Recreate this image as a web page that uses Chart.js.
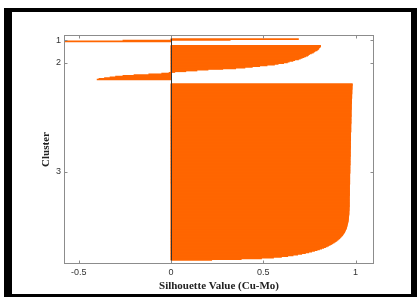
<!DOCTYPE html>
<html>
<head>
<meta charset="utf-8">
<script src="https://cdn.jsdelivr.net/npm/chart.js@4"></script>
<style>
  html, body { margin: 0; padding: 0; background: #fff; width: 417px; height: 297px; overflow: hidden; }
  #frame { position: absolute; left: 4px; top: 8px; width: 413px; height: 289px; box-sizing: border-box;
           border-left: 8px solid #000; border-top: 4px solid #000; border-right: 6px solid #000; border-bottom: 3px solid #000; }
  #c { position: absolute; left: 0; top: 0; }
</style>
</head>
<body>
<div id="frame"></div>
<canvas id="c" width="417" height="297"></canvas>
<script>
// ---- Data (silhouette values, sorted descending within each cluster) ----
const CLUSTER_LABELS = ['1', '2', '3'];

const cluster1 = [0.69, 0.32, -0.26, -0.60];

const cluster2 = [
  0.81, 0.81, 0.805, 0.80, 0.80, 0.795, 0.79, 0.78, 0.775, 0.77,
  0.76, 0.75, 0.745, 0.74, 0.73, 0.72, 0.71, 0.70, 0.69, 0.67,
  0.66, 0.64, 0.63, 0.61, 0.58, 0.56, 0.52, 0.48, 0.44, 0.40,
  0.35, 0.28, 0.20, 0.14, 0.08, 0.02, -0.01, -0.05, -0.12, -0.20,
  -0.26, -0.30, -0.33, -0.36, -0.39, -0.40
];

const cluster3 = [
  0.982,0.982,0.982,0.981,0.981,0.981,0.981,0.981,0.980,0.980,0.980,0.980,0.980,0.980,0.979,0.979,0.979,0.979,0.979,0.979,
  0.978,0.978,0.978,0.978,0.978,0.978,0.978,0.977,0.977,0.977,0.977,0.977,0.977,0.977,0.977,0.976,0.976,0.976,0.976,0.976,
  0.976,0.976,0.976,0.976,0.975,0.975,0.975,0.975,0.975,0.975,0.975,0.975,0.975,0.975,0.974,0.974,0.974,0.974,0.974,0.974,
  0.974,0.974,0.974,0.974,0.974,0.973,0.973,0.973,0.973,0.973,0.973,0.973,0.973,0.973,0.973,0.973,0.972,0.972,0.972,0.972,
  0.972,0.972,0.972,0.972,0.972,0.972,0.972,0.971,0.971,0.971,0.971,0.971,0.971,0.971,0.971,0.971,0.971,0.971,0.970,0.970,
  0.970,0.970,0.970,0.970,0.970,0.970,0.970,0.970,0.970,0.969,0.969,0.969,0.969,0.969,0.969,0.969,0.969,0.969,0.969,0.969,
  0.968,0.968,0.968,0.968,0.968,0.968,0.968,0.968,0.968,0.968,0.968,0.968,0.968,0.968,0.968,0.967,0.967,0.967,0.967,0.967,
  0.967,0.967,0.967,0.967,0.967,0.967,0.967,0.967,0.967,0.967,0.966,0.966,0.966,0.966,0.966,0.966,0.966,0.966,0.966,0.966,
  0.966,0.966,0.966,0.966,0.966,0.965,0.965,0.965,0.965,0.965,0.964,0.964,0.964,0.964,0.964,
  0.963,0.963,0.962,0.962,0.962,0.961,0.961,0.960,0.960,0.959,0.958,0.957,0.956,0.955,0.954,0.953,0.952,0.951,0.950,0.948,
  0.946,0.944,0.942,0.940,0.938,0.935,0.932,0.929,0.926,0.922,0.918,0.914,0.910,0.905,0.900,0.895,0.889,0.883,0.876,0.869,
  0.862,0.854,0.846,0.837,0.827,0.816,0.804,0.791,0.777,0.762,0.746,0.728,0.708,0.686,0.661,0.632,0.598,0.555,0.49,0.38,0.22
];

const X_TICKS = [-0.5, 0, 0.5, 1];
const X_TICK_LABELS = ['-0.5', '0', '0.5', '1'];
const X_MIN = -0.58, X_MAX = 1.1;
const X_TITLE = 'Silhouette Value (Cu-Mo)';
const Y_TITLE = 'Cluster';

// ---- Build bar rows (gap of SPACE empty rows around each cluster, as in a silhouette plot) ----
const clusters = [cluster1, cluster2, cluster3];
const nTotal = clusters.reduce((a, c) => a + c.length, 0);
const SPACE = Math.max(Math.floor(0.02 * nTotal), 2);
const points = [];
const centers = [];
let pos = SPACE;
clusters.forEach(c => {
  const start = pos + 1;
  c.forEach(v => { pos += 1; points.push({ x: v, y: pos }); });
  centers.push((start + pos) / 2);
  pos += SPACE;
});
const Y_MAX = pos + 0.5;

const ORANGE = '#ff6600';
const AXIS_GRAY = '#8c8c8c';

const axesPlugin = {
  id: 'matlabAxes',
  afterDatasetsDraw(chart) {
    const { ctx, chartArea: a, scales: { x, y } } = chart;
    ctx.save();
    // baseline at 0
    const x0 = Math.round(x.getPixelForValue(0)) + 0.5;
    ctx.strokeStyle = '#333';
    ctx.lineWidth = 1;
    ctx.beginPath(); ctx.moveTo(x0, a.top); ctx.lineTo(x0, a.bottom); ctx.stroke();
    // box
    const L = Math.round(a.left) + 0.5, R = Math.round(a.right) - 0.5;
    const T = Math.round(a.top) + 0.5, B = Math.round(a.bottom) - 0.5;
    ctx.strokeStyle = AXIS_GRAY;
    ctx.strokeRect(L, T, R - L, B - T);
    // inward ticks
    const tl = 3;
    ctx.beginPath();
    x.ticks.forEach(t => {
      const px = Math.round(x.getPixelForValue(t.value)) + 0.5;
      ctx.moveTo(px, B); ctx.lineTo(px, B - tl);
      ctx.moveTo(px, T); ctx.lineTo(px, T + tl);
    });
    y.ticks.forEach(t => {
      const py = Math.round(y.getPixelForValue(t.value)) + 0.5;
      ctx.moveTo(L, py); ctx.lineTo(L + tl, py);
      ctx.moveTo(R, py); ctx.lineTo(R - tl, py);
    });
    ctx.stroke();
    ctx.restore();
  }
};

new Chart(document.getElementById('c'), {
  type: 'bar',
  data: {
    datasets: [{
      data: points,
      backgroundColor: ORANGE,
      borderWidth: 0,
      inflateAmount: 0.45,
      barPercentage: 1,
      categoryPercentage: 1
    }]
  },
  options: {
    indexAxis: 'y',
    responsive: false,
    animation: false,
    events: [],
    layout: { padding: { left: 0, top: 35, right: 43, bottom: 0 } },
    plugins: { legend: { display: false }, tooltip: { enabled: false } },
    scales: {
      x: {
        type: 'linear',
        offset: false,
        min: X_MIN, max: X_MAX,
        afterBuildTicks: s => { s.ticks = X_TICKS.map(v => ({ value: v })); },
        afterFit: s => { s.height = 33; },
        border: { display: false },
        grid: { display: false, drawTicks: false },
        ticks: {
          padding: 3,
          color: '#333',
          font: { family: 'Liberation Sans', size: 9 },
          callback: (v, i) => X_TICK_LABELS[i]
        },
        title: {
          display: true, text: X_TITLE, color: '#222',
          font: { family: 'Liberation Serif', size: 11, weight: 'bold' },
          padding: { top: 0, bottom: 4 }
        }
      },
      y: {
        type: 'linear',
        offset: false,
        reverse: true,
        min: 0.5, max: Y_MAX,
        afterBuildTicks: s => { s.ticks = centers.map(v => ({ value: v })); },
        afterFit: s => { s.width = 64; },
        border: { display: false },
        grid: { display: false, drawTicks: false },
        ticks: {
          padding: 3,
          color: '#333',
          font: { family: 'Liberation Sans', size: 9 },
          callback: (v, i) => CLUSTER_LABELS[i]
        },
        title: {
          display: true, text: Y_TITLE, color: '#222',
          font: { family: 'Liberation Serif', size: 11, weight: 'bold' },
          padding: { top: 40, bottom: 0 }
        }
      }
    }
  },
  plugins: [axesPlugin]
});
</script>
</body>
</html>
